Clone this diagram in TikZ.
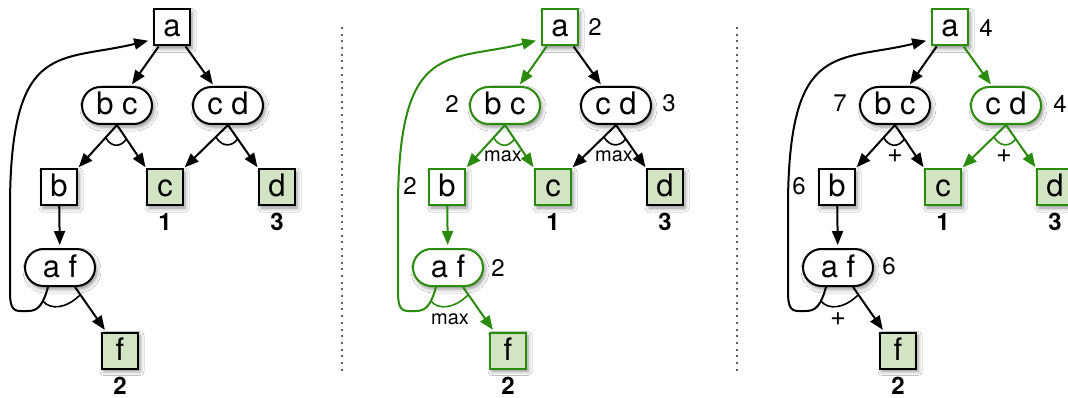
\documentclass[tikz,border=0pt]{standalone}
\usepackage{fontspec}
\setmainfont{TeX Gyre Heros}
\usetikzlibrary{arrows.meta,shapes.misc,shadows.blur,calc}

\definecolor{hlgreen}{HTML}{2A8C0C}
\definecolor{leafgreen}{HTML}{D3E4C4}
\definecolor{sepgray}{HTML}{606060}

\tikzset{
  nodeshadow/.style={blur shadow={shadow xshift=2pt,shadow yshift=-3pt,
      shadow blur radius=4pt,shadow opacity=45}},
  sqnode/.style={draw,line width=2pt,minimum size=36pt,inner sep=0pt,
      fill=white,nodeshadow,font=\fontsize{31}{31}\selectfont,
      text height=20pt,text depth=1pt},
  pill/.style={rounded rectangle,draw,line width=2pt,minimum width=70pt,
      minimum height=37pt,inner sep=0pt,fill=white,nodeshadow,
      font=\fontsize{31}{31}\selectfont,text height=20pt,text depth=1pt},
  solved/.style={fill=leafgreen},
  arrowline/.style={line width=2pt,-{Triangle[length=14pt,width=11pt]},shorten >=2pt},
  andarc/.style={line width=1.6pt},
  cost/.style={font=\fontsize{24}{24}\bfseries\selectfont,inner sep=0pt},
  num/.style={font=\fontsize{24}{24}\selectfont,inner sep=0pt},
  op/.style={font=\fontsize{20}{20}\selectfont,inner sep=0pt},
  plusop/.style={font=\fontsize{27}{27}\selectfont,inner sep=0pt},
  sepline/.style={draw=sepgray,line width=2pt,dash pattern=on 2pt off 4.7pt},
  hl/.style={draw=hlgreen},
  % per-panel colouring hooks (black by default)
  kA/.style={},kAbc/.style={},kAcd/.style={},kBC/.style={},kCD/.style={},
  kB/.style={},kC/.style={},kD/.style={},kBaf/.style={},kAF/.style={},kF/.style={}
}

% one AND/OR graph; #1 is the prefix of its node names
\newcommand\aotree[1]{%
  \node[sqnode,kA] (#1a) at (172,27.5) {a};
  \node[pill,kBC] (#1bc) at (117,105.5) {b c};
  \node[pill,kCD] (#1cd) at (228,105.5) {c d};
  \node[sqnode,kB] (#1b) at (59,187) {b};
  \node[sqnode,solved,kC] (#1c) at (165,187) {c};
  \node[sqnode,solved,kD] (#1d) at (277,187) {d};
  \node[pill,kAF] (#1af) at (60,267.5) {a f};
  \node[sqnode,solved,kF] (#1f) at (120,350.5) {f};
  \node[cost] (#1wc) at (165,222) {1};
  \node[cost] (#1wd) at (277,222) {3};
  \node[cost] (#1wf) at (120,386) {2};
  \draw[arrowline,kAbc] (#1a) -- (#1bc);
  \draw[arrowline,kAcd] (#1a) -- (#1cd);
  \draw[arrowline,kBC,shorten >=1pt] (#1bc.south) -- (#1b.north east);
  \draw[arrowline,kBC,shorten >=1pt] (#1bc.south) -- (#1c.north west);
  \draw[andarc,kBC] ($(#1bc.south)+(-11.3,12.7)$)
     .. controls ($(#1bc.south)+(-6,22)$) and ($(#1bc.south)+(3,23)$)
     .. ($(#1bc.south)+(9.4,14.1)$);
  \draw[arrowline,kCD,shorten >=1pt] (#1cd.south) -- (#1c.north east);
  \draw[arrowline,kCD,shorten >=1pt] (#1cd.south) -- (#1d.north west);
  \draw[andarc,kCD] ($(#1cd.south)+(-12,12)$)
     .. controls ($(#1cd.south)+(-7,21)$) and ($(#1cd.south)+(3,23)$)
     .. ($(#1cd.south)+(9.7,14)$);
  \draw[arrowline,kBaf,shorten >=3pt] (#1b) -- (#1af);
  \draw[arrowline,kAF] ([xshift=15pt]#1af.south) -- ([xshift=5pt]#1f.north west);
  \draw[arrowline,kAF,shorten >=5pt] ([xshift=-12pt]#1af.south)
     .. controls (43,305) and (38,311) .. (28,311) -- (20,311)
     .. controls (12,311) and (10,305) .. (10,292) -- (10,200)
     .. controls (12,40) and (60,62) .. ([yshift=-12pt]#1a.west);
  \draw[andarc,kAF] ($(#1af.south)+(-17,14)$)
     .. controls ($(#1af.south)+(-10,23)$) and ($(#1af.south)+(6,22)$)
     .. ($(#1af.south)+(20,8)$);
}

\begin{document}
\begin{tikzpicture}[x=1pt,y=-1pt]
  \useasboundingbox (0,0) rectangle (1068,398);
  \fill[white] (0,0) rectangle (1068,398);

  % separators between the three stages
  \draw[sepline] (341.5,27) -- (341.5,373);
  \draw[sepline] (737,27) -- (737,373);

  % stage 1: plain graph
  \begin{scope}
    \aotree{L}
  \end{scope}

  % stage 2: max costs
  \begin{scope}[xshift=388pt,
      kA/.style=hl,kAbc/.style=hl,kBC/.style=hl,kB/.style=hl,kC/.style=hl,
      kBaf/.style=hl,kAF/.style=hl,kF/.style=hl]
    \aotree{M}
    \node[num] (Mna)  at ($(Ma.east)+(16,-1)$) {2};
    \node[num] (Mnbc) at ($(Mbc.west)+(-17,-2)$) {2};
    \node[num] (Mncd) at ($(Mcd.east)+(17,-2)$) {3};
    \node[num] (Mnb)  at ($(Mb.west)+(-18,-1)$) {2};
    \node[num] (Mnaf) at ($(Maf.east)+(14,0)$) {2};
    \node[op] (Mobc) at ($(Mbc.south)+(-2,31)$) {max};
    \node[op] (Mocd) at ($(Mcd.south)+(-2,31)$) {max};
    \node[op] (Moaf) at ($(Maf.south)+(2,32)$) {max};
  \end{scope}

  % stage 3: additive costs
  \begin{scope}[xshift=778pt,
      kA/.style=hl,kAcd/.style=hl,kCD/.style=hl,kC/.style=hl,kD/.style=hl]
    \aotree{R}
    \node[num] (Rna)  at ($(Ra.east)+(17,0)$) {4};
    \node[num] (Rnbc) at ($(Rbc.west)+(-19,-2)$) {7};
    \node[num] (Rncd) at ($(Rcd.east)+(18,-2)$) {4};
    \node[num] (Rnb)  at ($(Rb.west)+(-19,-1)$) {6};
    \node[num] (Rnaf) at ($(Raf.east)+(15,-1)$) {6};
    \node[plusop] (Robc) at ($(Rbc.south)+(0,31)$) {+};
    \node[plusop] (Rocd) at ($(Rcd.south)+(-2,31)$) {+};
    \node[plusop] (Roaf) at ($(Raf.south)+(0,32)$) {+};
  \end{scope}
\end{tikzpicture}
\end{document}
